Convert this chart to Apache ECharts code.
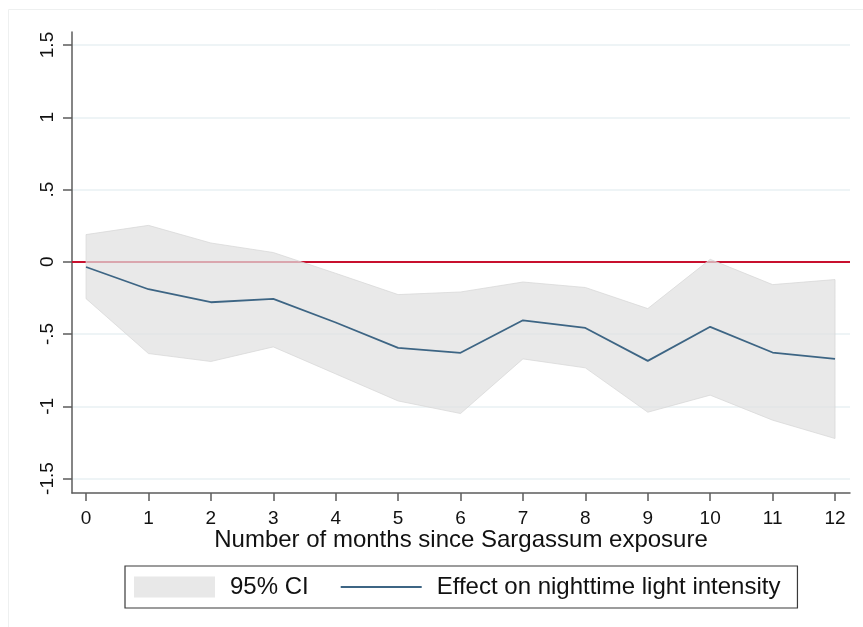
<!DOCTYPE html>
<html>
<head>
<meta charset="utf-8">
<script src="https://cdn.jsdelivr.net/npm/echarts@6/dist/echarts.min.js"></script>
<style>
  html, body { margin: 0; padding: 0; background: #ffffff; }
  #chart { width: 863px; height: 627px; }
</style>
</head>
<body>
<div id="chart"></div>
<script>
// Months since exposure (x categories)
const months = [0, 1, 2, 3, 4, 5, 6, 7, 8, 9, 10, 11, 12];
// Point estimate of the effect
const effect = [-0.036, -0.19, -0.28, -0.257, -0.42, -0.596, -0.63, -0.405, -0.458, -0.686, -0.45, -0.628, -0.672];
// 95% confidence bounds
const ciUpper = [0.188, 0.252, 0.13, 0.064, -0.08, -0.227, -0.209, -0.14, -0.178, -0.324, 0.017, -0.158, -0.123];
const ciLower = [-0.255, -0.635, -0.69, -0.589, -0.776, -0.963, -1.05, -0.672, -0.734, -1.041, -0.923, -1.096, -1.223];
// Y tick values and their printed labels
const yTicks = [-1.5, -1, -0.5, 0, 0.5, 1, 1.5];
const yTickLabels = ['-1.5', '-1', '-.5', '0', '.5', '1', '1.5'];

const FONT = '"Liberation Sans", Arial, Helvetica, sans-serif';
const AXIS_COLOR = '#5c5c5c';

const chart = echarts.init(document.getElementById('chart'), null, { renderer: 'canvas' });

const ciData = months.map((m, i) => [m, ciLower[i], ciUpper[i]]);
const lineData = months.map((m, i) => [m, effect[i]]);

chart.setOption({
  backgroundColor: '#ffffff',
  animation: false,
  textStyle: { fontFamily: FONT },
  graphic: [{
    type: 'rect',
    shape: { x: 8.5, y: 9.5, width: 880, height: 640 },
    style: { fill: 'none', stroke: '#eef0f0', lineWidth: 1 },
    silent: true,
    z: -10
  }],
  grid: { left: 72, right: 13, top: 32, bottom: 134 },
  xAxis: {
    type: 'value',
    min: -0.225,
    max: 12.24,
    name: 'Number of months since Sargassum exposure',
    nameLocation: 'middle',
    nameGap: 35,
    nameMoveOverlap: false,
    nameTextStyle: { fontSize: 24, color: '#111', fontFamily: FONT },
    axisLine: { show: true, onZero: false, lineStyle: { color: AXIS_COLOR, width: 1.5 } },
    axisTick: { show: true, customValues: months, length: 8, lineStyle: { color: AXIS_COLOR, width: 1.5 } },
    axisLabel: { customValues: months, fontSize: 19, color: '#111', margin: 16, fontFamily: FONT },
    splitLine: { show: false }
  },
  yAxis: {
    type: 'value',
    min: -1.6,
    max: 1.59,
    axisLine: { show: true, onZero: false, lineStyle: { color: AXIS_COLOR, width: 1.5 } },
    axisTick: { show: true, customValues: yTicks, length: 9, lineStyle: { color: AXIS_COLOR, width: 1.5 } },
    axisLabel: {
      customValues: yTicks,
      rotate: 90,
      fontSize: 19,
      color: '#111',
      margin: 15,
      fontFamily: FONT,
      formatter: function (v) {
        const i = yTicks.findIndex(t => Math.abs(t - v) < 1e-9);
        return i >= 0 ? yTickLabels[i] : '';
      }
    },
    splitLine: { show: true, lineStyle: { color: '#e9f1f3', width: 1.5 } }
  },
  legend: {
    left: 125,
    top: 566,
    orient: 'horizontal',
    padding: [9, 17, 9, 9],
    borderColor: '#3a3a3a',
    borderWidth: 1.2,
    itemWidth: 81,
    itemHeight: 21,
    itemGap: 31,
    textStyle: { fontSize: 24, color: '#111', fontFamily: FONT, padding: [0, 0, 0, 10] },
    data: [
      { name: '95% CI', icon: 'rect', itemStyle: { color: '#e8e8e8' } },
      { name: 'Effect on nighttime light intensity', itemStyle: { opacity: 0 } }
    ]
  },
  series: [
    {
      // zero reference line, drawn beneath the confidence band
      name: 'zero',
      type: 'line',
      data: [],
      z: 1,
      markLine: {
        silent: true,
        symbol: 'none',
        z: 1,
        label: { show: false },
        lineStyle: { color: '#c8102e', width: 2.2, type: 'solid' },
        data: [{ yAxis: 0 }]
      }
    },
    {
      name: '95% CI',
      type: 'custom',
      z: 2,
      itemStyle: { color: '#e8e8e8' },
      data: ciData,
      encode: { x: 0, y: [1, 2] },
      renderItem: function (params, api) {
        if (params.dataIndex !== 0) return null;
        const upper = ciData.map(d => api.coord([d[0], d[2]]));
        const lower = ciData.slice().reverse().map(d => api.coord([d[0], d[1]]));
        return {
          type: 'polygon',
          shape: { points: upper.concat(lower) },
          style: { fill: 'rgba(224,224,224,0.72)', stroke: 'rgba(214,214,214,0.7)', lineWidth: 1 }
        };
      }
    },
    {
      name: 'Effect on nighttime light intensity',
      type: 'line',
      z: 3,
      data: lineData,
      symbol: 'none',
      showSymbol: false,
      lineStyle: { color: '#3d6584', width: 1.8 },
      itemStyle: { color: '#3d6584' }
    }
  ]
});
</script>
</body>
</html>
